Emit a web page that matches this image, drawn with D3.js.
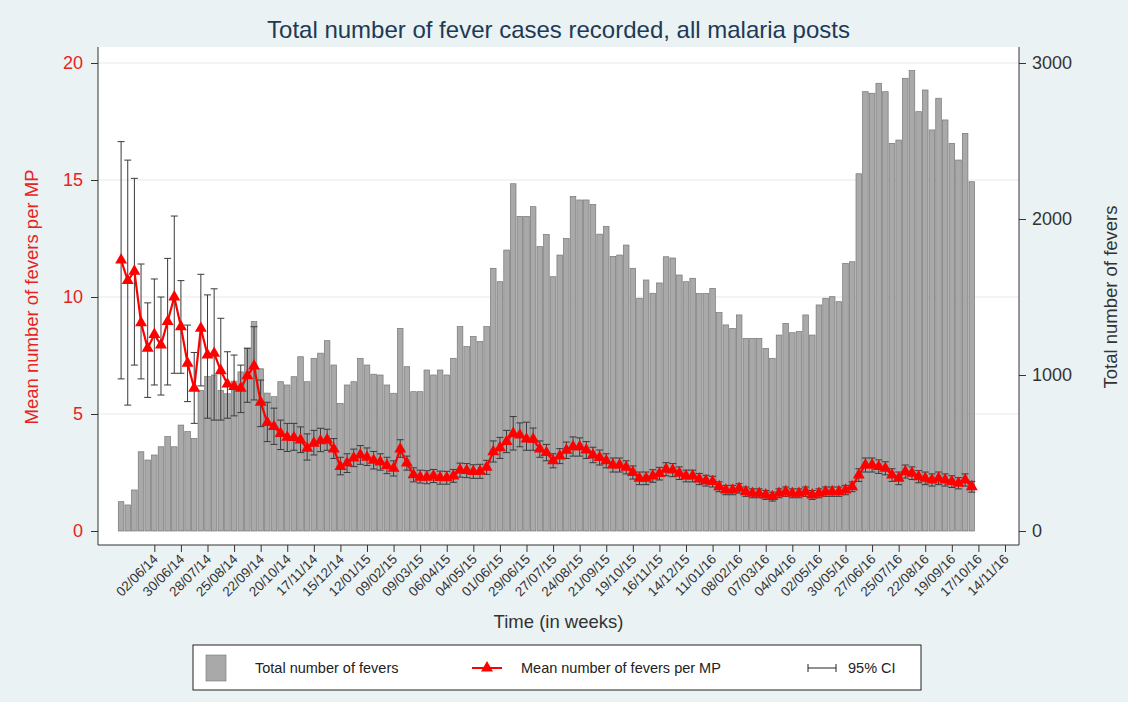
<!DOCTYPE html>
<html>
<head>
<meta charset="utf-8">
<title>Total number of fever cases recorded, all malaria posts</title>
<style>
  html, body { margin: 0; padding: 0; background: #eaf2f3; }
  svg { display: block; font-family: "Liberation Sans", Arial, Helvetica, sans-serif; }
</style>
</head>
<body>
<svg id="chart" width="1128" height="702"></svg>
<script src="https://d3js.org/d3.v7.min.js"></script>
<script>
// ---- data (one value per week) ----
const firstWeek = "28/04/14";

const totalFevers = [
  188, 167, 263, 508, 455, 487, 540, 605, 540, 679, 637, 594, 900, 990, 1000, 900,
  880, 960, 1020, 1172, 1342, 1040, 884, 861, 957, 936, 989, 1117, 957, 1107, 1140, 1220,
  1064, 818, 936, 957, 1107, 1064, 1005, 1000, 936, 883, 1299, 1053, 893, 893, 1032, 1000,
  1032, 1000, 1107, 1310, 1182, 1246, 1214, 1310, 1684, 1598, 1801, 2226, 2017, 2017, 2079, 1823,
  1900, 1630, 1769, 1876, 2145, 2122, 2122, 2093, 1903, 1953, 1760, 1769, 1833, 1684, 1492, 1609,
  1524, 1590, 1758, 1750, 1641, 1598, 1620, 1522, 1522, 1555, 1400, 1321, 1299, 1385, 1235, 1235,
  1235, 1171, 1107, 1256, 1331, 1271, 1278, 1385, 1256, 1449, 1492, 1502, 1470, 1716, 1726, 2290,
  2816, 2806, 2870, 2816, 2485, 2506, 2902, 2951, 2688, 2827, 2571, 2774, 2635, 2485, 2378, 2549,
  2239
];

const meanFevers = [
  11.58, 10.7, 11.1, 8.9, 7.81, 8.4, 7.95, 8.95, 10.0, 8.73, 7.17, 6.1, 8.66, 7.52, 7.59, 6.85,
  6.28, 6.17, 6.1, 6.63, 7.05, 5.5, 4.63, 4.46, 4.17, 4.0, 3.99, 3.89, 3.53, 3.75, 3.85, 3.9,
  3.5, 2.75, 2.9, 3.12, 3.25, 3.15, 3.02, 2.95, 2.8, 2.68, 3.5, 2.9, 2.4, 2.3, 2.3, 2.35,
  2.28, 2.27, 2.35, 2.6, 2.58, 2.54, 2.55, 2.72, 3.39, 3.56, 3.82, 4.17, 4.1, 3.93, 3.92, 3.5,
  3.35, 3.0, 3.2, 3.45, 3.6, 3.6, 3.46, 3.25, 3.14, 3.0, 2.82, 2.82, 2.72, 2.5, 2.25, 2.25,
  2.35, 2.45, 2.64, 2.6, 2.47, 2.35, 2.35, 2.22, 2.15, 2.11, 1.89, 1.75, 1.75, 1.82, 1.68, 1.61,
  1.61, 1.54, 1.47, 1.61, 1.68, 1.61, 1.61, 1.68, 1.54, 1.61, 1.68, 1.68, 1.68, 1.75, 1.89, 2.39,
  2.82, 2.82, 2.75, 2.68, 2.39, 2.25, 2.54, 2.47, 2.32, 2.25, 2.18, 2.25, 2.18, 2.11, 2.04, 2.18,
  1.89
];

const ciLow = [
  6.5, 5.38, 7.09, 6.5, 5.71, 6.24, 5.81, 6.24, 6.74, 6.74, 5.53, 4.6, 6.2, 4.82, 4.74, 4.74,
  4.82, 4.92, 5.06, 5.5, 5.6, 4.46, 3.82, 3.7, 3.48, 3.4, 3.45, 3.35, 3.03, 3.25, 3.39, 3.45,
  3.1, 2.4, 2.5, 2.75, 2.85, 2.8, 2.65, 2.6, 2.45, 2.35, 3.15, 2.6, 2.1, 2.05, 2.02, 2.07,
  2.0, 2.0, 2.08, 2.3, 2.28, 2.25, 2.25, 2.42, 2.95, 3.1, 3.35, 3.46, 3.6, 3.45, 3.45, 3.15,
  3.0, 2.7, 2.88, 3.1, 3.2, 3.2, 3.1, 2.92, 2.82, 2.7, 2.52, 2.52, 2.44, 2.22, 1.98, 1.98,
  2.08, 2.18, 2.36, 2.32, 2.2, 2.1, 2.1, 1.98, 1.92, 1.88, 1.68, 1.55, 1.55, 1.62, 1.48, 1.42,
  1.42, 1.35, 1.28, 1.42, 1.48, 1.42, 1.42, 1.48, 1.35, 1.42, 1.48, 1.48, 1.48, 1.55, 1.68, 2.12,
  2.52, 2.52, 2.46, 2.4, 2.12, 1.98, 2.26, 2.2, 2.06, 1.98, 1.92, 1.98, 1.92, 1.86, 1.8, 1.92,
  1.66
];

const ciHigh = [
  16.64, 15.85, 15.07, 11.41, 9.75, 10.77, 10.0, 11.65, 13.46, 10.7, 8.8, 7.63, 10.97, 10.09, 10.35, 9.09,
  7.66, 7.52, 7.09, 7.81, 8.73, 6.45, 5.5, 5.25, 4.74, 4.6, 4.6, 4.45, 4.15, 4.3, 4.39, 4.35,
  3.95, 3.15, 3.3, 3.5, 3.65, 3.55, 3.4, 3.3, 3.15, 3.0, 3.9, 3.2, 2.7, 2.6, 2.58, 2.63,
  2.56, 2.55, 2.63, 2.9, 2.88, 2.83, 2.85, 3.02, 3.85, 4.0, 4.3, 4.89, 4.62, 4.65, 4.4, 3.85,
  3.7, 3.3, 3.52, 3.8, 4.02, 3.98, 3.82, 3.58, 3.46, 3.3, 3.12, 3.12, 3.0, 2.78, 2.52, 2.52,
  2.62, 2.72, 2.92, 2.88, 2.74, 2.6, 2.6, 2.46, 2.38, 2.34, 2.1, 1.95, 1.95, 2.02, 1.88, 1.8,
  1.8, 1.73, 1.66, 1.8, 1.88, 1.8, 1.8, 1.88, 1.73, 1.8, 1.88, 1.88, 1.88, 1.95, 2.1, 2.66,
  3.12, 3.12, 3.04, 2.96, 2.66, 2.52, 2.82, 2.74, 2.58, 2.52, 2.44, 2.52, 2.44, 2.36, 2.28, 2.44,
  2.12
];

const xTickLabels = [
  "02/06/14", "30/06/14", "28/07/14", "25/08/14", "22/09/14", "20/10/14", "17/11/14", "15/12/14",
  "12/01/15", "09/02/15", "09/03/15", "06/04/15", "04/05/15", "01/06/15", "29/06/15", "27/07/15",
  "24/08/15", "21/09/15", "19/10/15", "16/11/15", "14/12/15", "11/01/16", "08/02/16", "07/03/16",
  "04/04/16", "02/05/16", "30/05/16", "27/06/16", "25/07/16", "22/08/16", "19/09/16", "17/10/16",
  "14/11/16"
];
const leftTicks = [0, 5, 10, 15, 20];
const rightTicks = [0, 1000, 2000, 3000];

const titleText = "Total number of fever cases recorded, all malaria posts";
const xTitle = "Time (in weeks)";
const leftTitle = "Mean number of fevers per MP";
const rightTitle = "Total number of fevers";
const legendLabels = ["Total number of fevers", "Mean number of fevers per MP", "95% CI"];

// ---- colours ----
const bgColor = "#eaf2f3";
const barFill = "#a9a9a9";
const barStroke = "#767676";
const red = "#ff0000";
const axisColor = "#333";

// ---- layout ----
const svg = d3.select("#chart");
const W = 1128, H = 702;
const plot = { left: 98, right: 1019, top: 47, bottom: 545 };

const parse = d3.utcParse("%d/%m/%y");
const fmt = d3.utcFormat("%d/%m/%y");
const start = parse(firstWeek);
const weeks = totalFevers.map((_, i) => d3.utcDay.offset(start, 7 * i));
const rows = weeks.map((d, i) => ({
  date: d, total: totalFevers[i], mean: meanFevers[i], lo: ciLow[i], hi: ciHigh[i]
}));

const x = d3.scaleUtc()
  .domain([new Date(Date.UTC(2014, 3, 3, 16)), new Date(Date.UTC(2016, 10, 28, 18))])
  .range([plot.left, plot.right]);
const yL = d3.scaleLinear().domain([0, 20]).range([531, 63]);
const yR = d3.scaleLinear().domain([0, 3000]).range([531, 63]);

const weekPx = x(d3.utcDay.offset(start, 7)) - x(start);
const barW = weekPx * 0.84;

// background + plot region
svg.append("rect").attr("width", W).attr("height", H).attr("fill", bgColor);
svg.append("rect")
  .attr("x", plot.left).attr("y", plot.top)
  .attr("width", plot.right - plot.left).attr("height", plot.bottom - plot.top)
  .attr("fill", "#fff");

// gridlines (left axis)
svg.append("g").selectAll("line")
  .data(leftTicks.filter(t => t > 0))
  .join("line")
  .attr("x1", plot.left).attr("x2", plot.right)
  .attr("y1", d => yL(d)).attr("y2", d => yL(d))
  .attr("stroke", "#e3ebee").attr("stroke-width", 1);

// bars
svg.append("g").selectAll("rect")
  .data(rows)
  .join("rect")
  .attr("x", d => x(d.date) - barW / 2)
  .attr("y", d => yR(d.total))
  .attr("width", barW)
  .attr("height", d => yR(0) - yR(d.total))
  .attr("fill", barFill)
  .attr("stroke", barStroke)
  .attr("stroke-width", 0.7);

// 95% CI caps
const capW = 7;
const ci = svg.append("g").attr("stroke", "#3a3a3a").attr("stroke-width", 1).attr("fill", "none");
ci.selectAll("path")
  .data(rows)
  .join("path")
  .attr("d", d => {
    const cx = x(d.date), a = yL(d.hi), b = yL(d.lo);
    return `M${cx},${a}V${b}M${cx - capW / 2},${a}H${cx + capW / 2}M${cx - capW / 2},${b}H${cx + capW / 2}`;
  });

// mean line with triangles
svg.append("path")
  .datum(rows)
  .attr("fill", "none")
  .attr("stroke", red)
  .attr("stroke-width", 2.2)
  .attr("d", d3.line().x(d => x(d.date)).y(d => yL(d.mean)));

const tri = d3.symbol(d3.symbolTriangle, 62);
svg.append("g").selectAll("path")
  .data(rows)
  .join("path")
  .attr("transform", d => `translate(${x(d.date)},${yL(d.mean)})`)
  .attr("d", tri)
  .attr("fill", red);

// axes
const axisLines = svg.append("g").attr("stroke", axisColor).attr("stroke-width", 1);
axisLines.append("line").attr("x1", plot.left).attr("x2", plot.left).attr("y1", plot.top).attr("y2", plot.bottom);
axisLines.append("line").attr("x1", plot.right).attr("x2", plot.right).attr("y1", plot.top).attr("y2", plot.bottom);
axisLines.append("line").attr("x1", plot.left).attr("x2", plot.right).attr("y1", plot.bottom).attr("y2", plot.bottom);

const gx = svg.append("g")
  .attr("transform", `translate(0,${plot.bottom})`)
  .call(d3.axisBottom(x).tickValues(xTickLabels.map(parse)).tickFormat(fmt).tickSize(7));
gx.select(".domain").remove();
gx.selectAll(".tick line").attr("stroke", axisColor);
gx.selectAll(".tick text")
  .attr("fill", "#333")
  .attr("font-size", 13.5)
  .attr("text-anchor", "end")
  .attr("x", 0).attr("y", 0).attr("dy", 0)
  .attr("transform", "translate(4,15) rotate(-45)");

const gl = svg.append("g")
  .attr("transform", `translate(${plot.left},0)`)
  .call(d3.axisLeft(yL).tickValues(leftTicks).tickSize(7).tickPadding(8));
gl.select(".domain").remove();
gl.selectAll(".tick line").attr("stroke", axisColor);
gl.selectAll(".tick text").attr("fill", "#e8221f").attr("font-size", 18);

const gr = svg.append("g")
  .attr("transform", `translate(${plot.right},0)`)
  .call(d3.axisRight(yR).tickValues(rightTicks).tickFormat(d3.format("d")).tickSize(7).tickPadding(6));
gr.select(".domain").remove();
gr.selectAll(".tick line").attr("stroke", axisColor);
gr.selectAll(".tick text").attr("fill", "#333").attr("font-size", 18);

// titles
svg.append("text")
  .attr("x", (plot.left + plot.right) / 2).attr("y", 38)
  .attr("text-anchor", "middle").attr("font-size", 24).attr("fill", "#1e3a56")
  .text(titleText);
svg.append("text")
  .attr("x", (plot.left + plot.right) / 2).attr("y", 628)
  .attr("text-anchor", "middle").attr("font-size", 18.5).attr("fill", "#333")
  .text(xTitle);
svg.append("text")
  .attr("transform", `translate(38,${(63 + 531) / 2}) rotate(-90)`)
  .attr("text-anchor", "middle").attr("font-size", 18.5).attr("fill", "#e8221f")
  .text(leftTitle);
svg.append("text")
  .attr("transform", `translate(1117,${(63 + 531) / 2}) rotate(-90)`)
  .attr("text-anchor", "middle").attr("font-size", 18.5).attr("fill", "#333")
  .text(rightTitle);

// legend
const lg = svg.append("g");
lg.append("rect").attr("x", 193).attr("y", 645).attr("width", 728).attr("height", 45)
  .attr("fill", "#fff").attr("stroke", "#222").attr("stroke-width", 1);
lg.append("rect").attr("x", 206).attr("y", 655).attr("width", 20).attr("height", 26)
  .attr("fill", barFill).attr("stroke", barStroke).attr("stroke-width", 0.6);
lg.append("line").attr("x1", 472).attr("x2", 502).attr("y1", 668).attr("y2", 668)
  .attr("stroke", red).attr("stroke-width", 2);
lg.append("path").attr("transform", "translate(487,668)").attr("d", tri).attr("fill", red);
lg.append("path")
  .attr("d", "M808,668H836M808,664V672M836,664V672")
  .attr("stroke", "#222").attr("stroke-width", 1).attr("fill", "none");
lg.selectAll("text.lab")
  .data(legendLabels)
  .join("text")
  .attr("class", "lab")
  .attr("x", (d, i) => [255, 521, 848][i])
  .attr("y", 673)
  .attr("font-size", 14.5)
  .attr("fill", "#222")
  .text(d => d);
</script>
</body>
</html>
